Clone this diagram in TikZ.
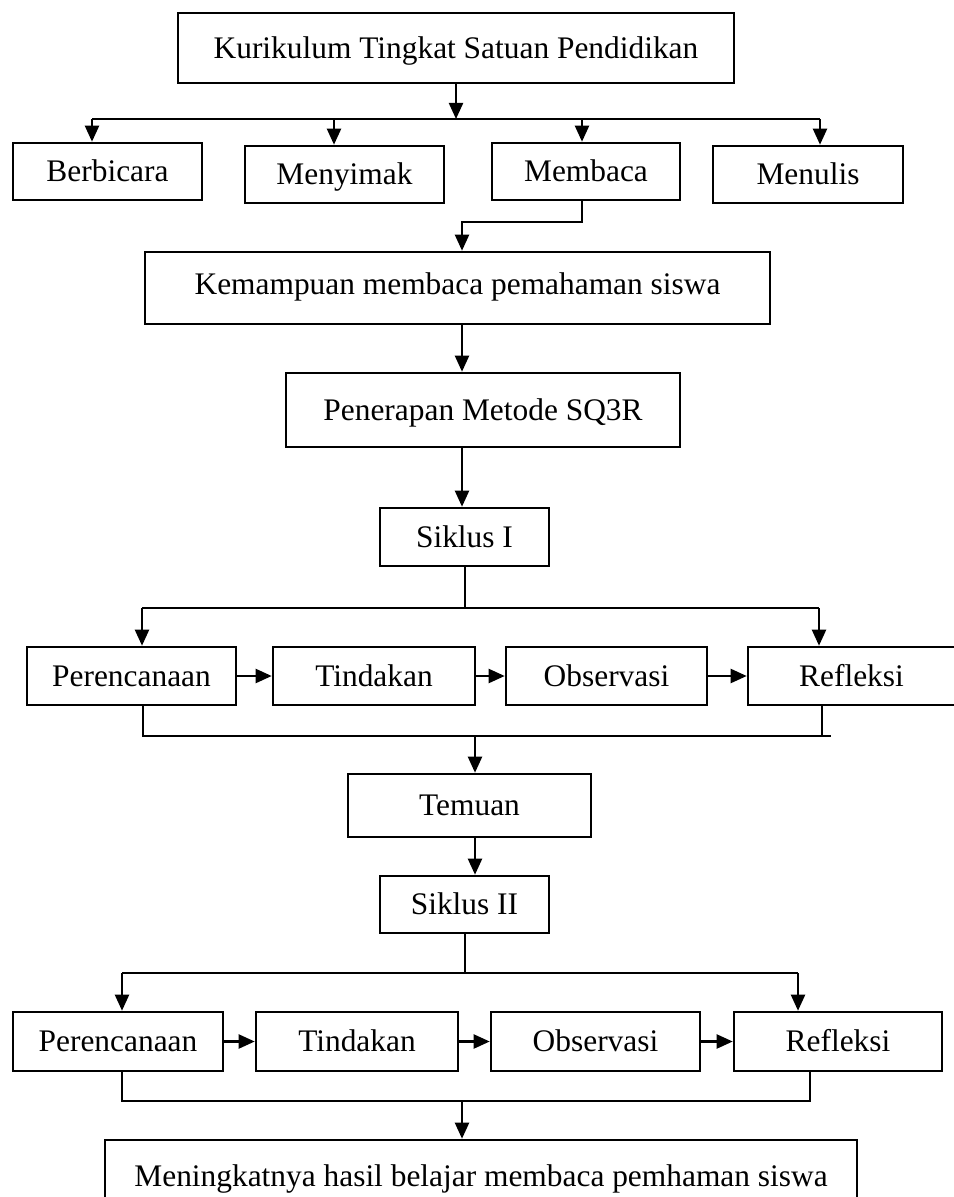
\documentclass[tikz,border=0pt]{standalone}
\usepackage{fontspec}
\setmainfont{Liberation Serif}
\usetikzlibrary{arrows.meta}

\begin{document}
\begin{tikzpicture}[x=0.5bp, y=-0.5bp, line width=1.1bp,
    >={Triangle[length=8bp,width=7bp]},
    box/.style={draw, line width=1.3bp, inner sep=0pt, minimum height=28.5bp,
      font=\fontsize{15.7bp}{18bp}\selectfont, text height=12.5bp, text depth=2.1bp},
    rowbox/.style={box, minimum height=29bp}]
  \useasboundingbox (0,0) rectangle (953,1197);

  \node[box, minimum width=278bp, minimum height=35bp] (kts) at (456,48) {Kurikulum Tingkat Satuan Pendidikan};
  \node[box, minimum width=94.5bp] (berbicara) at (107.5,171.5) {Berbicara};
  \node[box, minimum width=99.5bp] (menyimak) at (344.5,174.5) {Menyimak};
  \node[box, minimum width=94bp] (membaca) at (586,171.5) {Membaca};
  \node[box, minimum width=95bp] (menulis) at (808,174.5) {Menulis};
  \node[box, minimum width=312.5bp, minimum height=36bp, text depth=6bp] (kemampuan) at (457.5,288) {Kemampuan membaca pemahaman siswa};
  \node[box, minimum width=197bp, minimum height=37bp] (penerapan) at (483,410) {Penerapan Metode SQ3R};
  \node[box, minimum width=84.5bp, minimum height=29bp] (siklusa) at (464.5,537) {Siklus I};
  \node[rowbox, minimum width=104.5bp] (pa) at (131.5,676) {Perencanaan};
  \node[rowbox, minimum width=101bp] (ta) at (374,676) {Tindakan};
  \node[rowbox, minimum width=100.5bp] (oa) at (606.5,676) {Observasi};
  \node[rowbox, minimum width=103.5bp] (ra) at (851.5,676) {Refleksi};
  \node[box, minimum width=121.5bp, minimum height=31.5bp] (temuan) at (469.5,805.5) {Temuan};
  \node[box, minimum width=84.5bp] (siklusb) at (464.5,904.5) {Siklus II};
  \node[rowbox, minimum width=105bp, minimum height=29.5bp] (pb) at (118,1041.5) {Perencanaan};
  \node[rowbox, minimum width=101bp, minimum height=29.5bp] (tb) at (357,1041.5) {Tindakan};
  \node[rowbox, minimum width=104.5bp, minimum height=29.5bp] (ob) at (595.5,1041.5) {Observasi};
  \node[rowbox, minimum width=104bp, minimum height=29.5bp] (rb) at (838,1041.5) {Refleksi};
  \node[box, minimum width=376bp, minimum height=38bp, text depth=4.5bp] (hasil) at (481,1178) {Meningkatnya hasil belajar membaca pemhaman siswa};

  \coordinate (d1) at (92,119);
  \coordinate (d2) at (334,119);
  \coordinate (d3) at (582,119);
  \coordinate (d4) at (820,119);
  \draw (d1) -- (d4);
  \draw[->] (kts) -- (kts |- d1);
  \foreach \d/\n in {d1/berbicara, d2/menyimak, d3/membaca, d4/menulis}
    \draw[->] (\d) -- (\d |- \n.north);

  \coordinate (m1) at (582,222);
  \coordinate (m2) at (462,222);
  \draw[->] (m1 |- membaca.south) -- (m1) -- (m2) -- (m2 |- kemampuan.north);
  \draw[->] (m2 |- kemampuan.south) -- (m2 |- penerapan.north);
  \draw[->] (m2 |- penerapan.south) -- (m2 |- siklusa.north);

  \coordinate (s1l) at (142,608);
  \coordinate (s1m) at (465,608);
  \coordinate (s1r) at (819,608);
  \draw (s1m |- siklusa.south) -- (s1m);
  \draw (s1l) -- (s1r);
  \draw[->] (s1l) -- (s1l |- pa.north);
  \draw[->] (s1r) -- (s1r |- ra.north);
  \path[->]
    (pa) edge (ta)
    (ta) edge (oa)
    (oa) edge (ra);

  \coordinate (f1l) at (143,736);
  \coordinate (f1m) at (475,736);
  \coordinate (f1q) at (822,736);
  \coordinate (f1r) at (831,736);
  \draw (f1l |- pa.south) -- (f1l) -- (f1r);
  \draw (f1q |- ra.south) -- (f1q);
  \draw[->] (f1m) -- (f1m |- temuan.north);
  \draw[->] (f1m |- temuan.south) -- (f1m |- siklusb.north);

  \coordinate (s2l) at (122,973);
  \coordinate (s2m) at (465,973);
  \coordinate (s2r) at (798,973);
  \draw (s2m |- siklusb.south) -- (s2m);
  \draw (s2l) -- (s2r);
  \draw[->] (s2l) -- (s2l |- pb.north);
  \draw[->] (s2r) -- (s2r |- rb.north);
  \path[->]
    (pb) edge (tb)
    (tb) edge (ob)
    (ob) edge (rb);

  \coordinate (f2l) at (122,1101);
  \coordinate (f2m) at (462,1101);
  \coordinate (f2r) at (810,1101);
  \draw (f2l |- pb.south) -- (f2l) -- (f2r) -- (f2r |- rb.south);
  \draw[->] (f2m) -- (f2m |- hasil.north);
\end{tikzpicture}
\end{document}
